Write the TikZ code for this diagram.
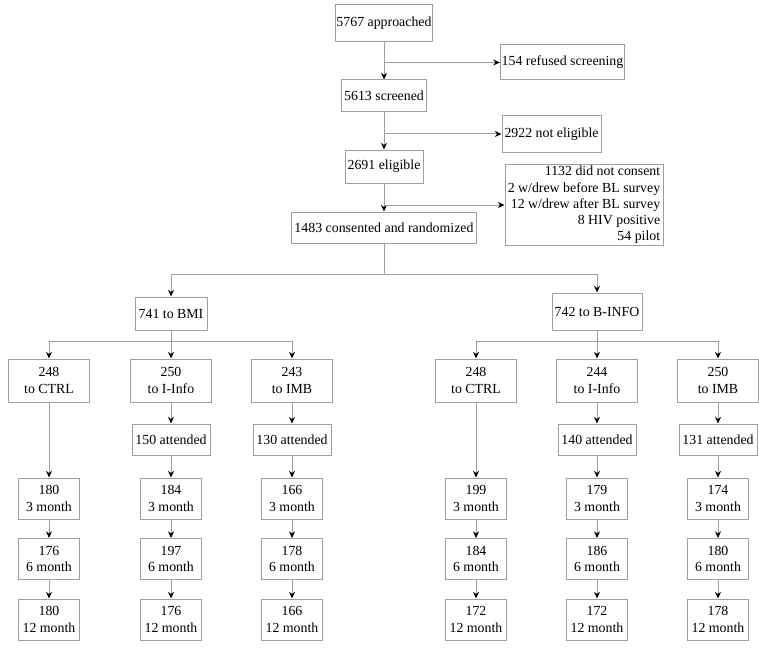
\documentclass[tikz,border=0pt]{standalone}
\usepackage{fontspec}
\setmainfont{Liberation Serif}
\usetikzlibrary{arrows.meta}

\tikzset{
  box/.style={draw=gray!75, line width=0.75pt, inner sep=1pt, align=center,
    font=\fontsize{10.4}{12.2}\selectfont},
  arm/.style={box, minimum width=60.75pt, minimum height=32.25pt},
  att/.style={box, minimum width=58.5pt, minimum height=23.25pt},
  month/.style={box, minimum width=45.75pt, minimum height=30.75pt},
  link/.style={draw=gray!75, line width=0.75pt},
  arr/.style={link, -{Stealth[black, length=5pt, width=4.5pt]}}
}

\begin{document}
\begin{tikzpicture}[x=0.75pt, y=-0.75pt]  % enrolment flow
	\useasboundingbox (0,0) rectangle (759,649);
	% screening
	\node[box, minimum width=72.75pt, minimum height=27.75pt] (appr) at (384,23.5) {5767 approached};
	\node[box, minimum width=90.75pt, minimum height=26.25pt] (refused) at (562.5,62.5) {154 refused screening};
	\node[box, minimum width=63.75pt, minimum height=24pt] (scr) at (384,96) {5613 screened};
	\node[box, minimum width=74.25pt, minimum height=27pt] (notel) at (551.5,134) {2922 not eligible};
	\node[box, minimum width=58.5pt, minimum height=24.75pt] (elig) at (384,166.5) {2691 eligible};
	\node[box, minimum width=118.5pt, minimum height=58.5pt, align=right] (excl) at (584,205)
		{1132 did not consent\\2 w/drew before BL survey\\12 w/drew after BL survey\\8 HIV positive\\54 pilot};
	\node[box, minimum width=138.75pt, minimum height=23.25pt] (cons) at (384,227.5) {1483 consented and randomized};
	\draw[arr] (appr) -- (scr);
	\draw[arr] (appr |- refused) -- (refused);
	\draw[arr] (scr) -- (elig);
	\draw[arr] (scr |- notel) -- (notel);
	\draw[arr] (elig) -- (cons);
	\draw[arr] (elig |- excl) -- (excl);
	% randomization
	\node[box, minimum width=54pt, minimum height=24.75pt] (bmi) at (171,313.5) {741 to BMI};
	\node[box, minimum width=67.5pt, minimum height=27.75pt] (binfo) at (597,311.5) {742 to B-INFO};
	\coordinate (split) at (384,274);
	\draw[link] (cons) -- (split);
	\draw[arr] (split) -| (bmi);
	\draw[arr] (split) -| (binfo);
	% BMI arms
	\node[arm] (bctrl) at (49,380.5) {248\\to CTRL};
	\node[arm] (binf) at (171,380.5) {250\\to I-Info};
	\node[arm] (bimb) at (292,380.5) {243\\to IMB};
	\coordinate (bsplit) at (171,341);
	\draw[link] (bmi) -- (bsplit);
	\draw[arr] (bsplit) -| (bctrl);
	\draw[arr] (bsplit) -- (binf);
	\draw[arr] (bsplit) -| (bimb);
	\node[att] (binfatt) at (171,439.5) {150 attended};
	\node[att] (bimbatt) at (292,439.5) {130 attended};
	\draw[arr] (binf) -- (binfatt);
	\draw[arr] (bimb) -- (bimbatt);
	% B-INFO arms
	\node[arm] (ictrl) at (476,380.5) {248\\to CTRL};
	\node[arm] (iinf) at (597,380.5) {244\\to I-Info};
	\node[arm] (iimb) at (718,380.5) {250\\to IMB};
	\coordinate (isplit) at (597,341);
	\draw[link] (binfo) -- (isplit);
	\draw[arr] (isplit) -| (ictrl);
	\draw[arr] (isplit) -- (iinf);
	\draw[arr] (isplit) -| (iimb);
	\node[att] (iinfatt) at (597,439.5) {140 attended};
	\node[att] (iimbatt) at (718,439.5) {131 attended};
	\draw[arr] (iinf) -- (iinfatt);
	\draw[arr] (iimb) -- (iimbatt);
	% follow-up, BMI
	\node[month] (bc3) at (49,498.5) {180\\3 month};
	\node[month] (bc6) at (49,559) {176\\6 month};
	\node[month] (bc12) at (49,619.5) {180\\12 month};
	\node[month] (bi3) at (171,498.5) {184\\3 month};
	\node[month] (bi6) at (171,559) {197\\6 month};
	\node[month] (bi12) at (171,619.5) {176\\12 month};
	\node[month] (bm3) at (292,498.5) {166\\3 month};
	\node[month] (bm6) at (292,559) {178\\6 month};
	\node[month] (bm12) at (292,619.5) {166\\12 month};
	% follow-up, B-INFO
	\node[month] (ic3) at (476,498.5) {199\\3 month};
	\node[month] (ic6) at (476,559) {184\\6 month};
	\node[month] (ic12) at (476,619.5) {172\\12 month};
	\node[month] (ii3) at (597,498.5) {179\\3 month};
	\node[month] (ii6) at (597,559) {186\\6 month};
	\node[month] (ii12) at (597,619.5) {172\\12 month};
	\node[month] (im3) at (718,498.5) {174\\3 month};
	\node[month] (im6) at (718,559) {180\\6 month};
	\node[month] (im12) at (718,619.5) {178\\12 month};
	\draw[arr] (bctrl) -- (bc3);
	\draw[arr] (bc3) -- (bc6);
	\draw[arr] (bc6) -- (bc12);
	\draw[arr] (binfatt) -- (bi3);
	\draw[arr] (bi3) -- (bi6);
	\draw[arr] (bi6) -- (bi12);
	\draw[arr] (bimbatt) -- (bm3);
	\draw[arr] (bm3) -- (bm6);
	\draw[arr] (bm6) -- (bm12);
	\draw[arr] (ictrl) -- (ic3);
	\draw[arr] (ic3) -- (ic6);
	\draw[arr] (ic6) -- (ic12);
	\draw[arr] (iinfatt) -- (ii3);
	\draw[arr] (ii3) -- (ii6);
	\draw[arr] (ii6) -- (ii12);
	\draw[arr] (iimbatt) -- (im3);
	\draw[arr] (im3) -- (im6);
	\draw[arr] (im6) -- (im12);
\end{tikzpicture}
\end{document}
